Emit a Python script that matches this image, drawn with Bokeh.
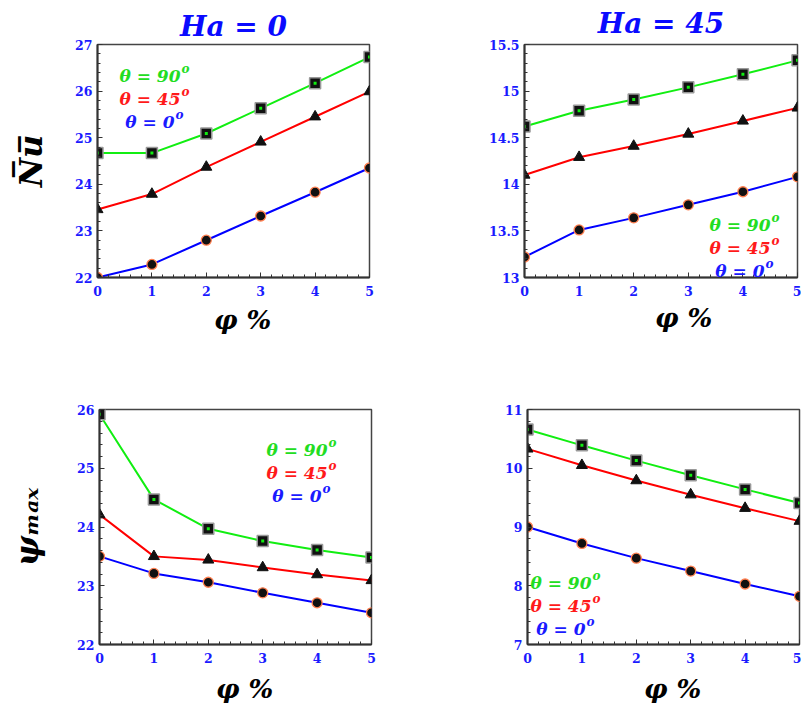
from bokeh.plotting import figure
from bokeh.layouts import column, row
from bokeh.models import Label, SingleIntervalTicker, NumeralTickFormatter, Range1d
from bokeh.embed import file_html
from bokeh.resources import INLINE

# ---------------- data ----------------
phi = [0, 1, 2, 3, 4, 5]

nu_ha0_t90 = [24.67, 24.67, 25.09, 25.63, 26.17, 26.73]
nu_ha0_t45 = [23.46, 23.79, 24.37, 24.91, 25.45, 25.99]
nu_ha0_t0 = [22.0, 22.28, 22.80, 23.32, 23.83, 24.35]

nu_ha45_t90 = [14.62, 14.79, 14.91, 15.04, 15.18, 15.33]
nu_ha45_t45 = [14.10, 14.29, 14.41, 14.54, 14.68, 14.82]
nu_ha45_t0 = [13.22, 13.51, 13.64, 13.78, 13.92, 14.08]

psi_ha0_t90 = [25.92, 24.47, 23.97, 23.76, 23.61, 23.48]
psi_ha0_t45 = [24.21, 23.50, 23.44, 23.31, 23.19, 23.09]
psi_ha0_t0 = [23.50, 23.21, 23.06, 22.88, 22.71, 22.54]

psi_ha45_t90 = [10.66, 10.39, 10.13, 9.88, 9.64, 9.41]
psi_ha45_t45 = [10.33, 10.05, 9.79, 9.55, 9.32, 9.10]
psi_ha45_t0 = [9.00, 8.72, 8.47, 8.25, 8.03, 7.82]

legend_texts = ["\u03b8 = 90", "\u03b8 = 45", "\u03b8 = 0"]
titles = ["Ha = 0", "Ha = 45"]
x_label = "\u03c6 %"
y_label_nu = "N\u0305u\u0305"
y_label_psi = "\u03c8\u2098\u2090\u2093"

# ---------------- style ----------------
FONT = "DejaVu Serif"
GREEN = "#11ee11"
RED = "#ff0000"
BLUE = "#0000ff"
LEG_COLORS = ["#22dd22", "#ff1a1a", "#1a1aff"]
TICK_BLUE = "#1a1aff"
DARK = "#333333"
NB = "\u00a0"


def put(p, fx0, fy1, px, py, text, size, color="black", style="bold",
        align="left", baseline="alphabetic"):
    p.add_layout(Label(x=px - fx0, y=fy1 - py, x_units="screen", y_units="screen",
                       text=text, text_font=FONT, text_font_size=f"{size}px",
                       text_font_style=style, text_color=color, text_align=align,
                       text_baseline=baseline))


def panel(width, height, fx0, fy0, fx1, fy1, y_lo, y_hi, y_step, t90, t45, t0,
          title_text, xpad, xstand, tstand=4):
    p = figure(width=width, height=height, x_range=Range1d(0, 5), y_range=Range1d(y_lo, y_hi),
               output_backend="svg", toolbar_location=None, title=title_text,
               min_border_left=fx0, min_border_right=width - fx1,
               min_border_top=fy0, min_border_bottom=height - fy1)
    p.xgrid.visible = False
    p.ygrid.visible = False
    p.outline_line_color = "#444444"
    p.outline_line_width = 1.5
    p.background_fill_color = "white"
    p.border_fill_color = "white"

    if p.title is not None:
        p.title.text_font = FONT
        p.title.text_font_size = "28px"
        p.title.text_font_style = "bold italic"
        p.title.text_color = "#0a0aff"
        p.title.align = "center"
        p.title.standoff = tstand

    p.xaxis.ticker = SingleIntervalTicker(interval=1, num_minor_ticks=5)
    p.yaxis.ticker = SingleIntervalTicker(interval=y_step, num_minor_ticks=5)
    p.yaxis.formatter = NumeralTickFormatter(format="0.[0]")
    for ax in (p.xaxis[0], p.yaxis[0]):
        ax.major_tick_in = 5
        ax.major_tick_out = 0
        ax.minor_tick_in = 3
        ax.minor_tick_out = 0
        ax.axis_line_color = DARK
        ax.axis_line_width = 2
        ax.major_tick_line_color = DARK
        ax.minor_tick_line_color = DARK
        ax.major_label_text_font = FONT
        ax.major_label_text_font_style = "bold"
        ax.major_label_text_color = TICK_BLUE
        ax.major_label_text_font_size = "12.5px"
        ax.axis_label_text_font = FONT
        ax.axis_label_text_color = "black"
    p.xaxis.major_label_standoff = 8
    p.yaxis.major_label_standoff = 5
    p.xaxis.axis_label = NB * xpad + x_label
    p.xaxis.axis_label_text_font_size = "26px"
    p.xaxis.axis_label_text_font_style = "bold italic"
    p.xaxis.axis_label_standoff = xstand

    # lines
    p.line(phi, t90, line_color=GREEN, line_width=2)
    p.line(phi, t45, line_color=RED, line_width=2)
    p.line(phi, t0, line_color=BLUE, line_width=2)
    # markers
    p.scatter(phi, t0, marker="circle", size=10, fill_color="#111111",
              line_color="#ff7f50", line_width=1.3)
    p.scatter(phi, t45, marker="triangle", size=11, fill_color="#111111",
              line_color="#111111", line_width=1)
    p.scatter(phi, t90, marker="square", size=11, fill_color="#111111",
              line_color="#999999", line_width=1.5)
    p.scatter(phi, t90, marker="square", size=3, fill_color=GREEN, line_color=None)
    return p


def legend(p, fx0, fy1, right, base):
    offs = [0, 23, 46]
    sub = [13, 13, 19]
    for t, c, o, s in zip(legend_texts, LEG_COLORS, offs, sub):
        put(p, fx0, fy1, right - s, base + o, t, 17, color=c, style="bold italic", align="right")
        put(p, fx0, fy1, right - s + 1, base + o - 7, "o", 12, color=c, style="bold italic", align="left")


W0, H0, W1 = 400, 355, 401

# ---- top-left: Nu, Ha = 0 ----
tl = panel(W0, H0, 97, 43, 369, 277, 22, 27, 1, nu_ha0_t90, nu_ha0_t45, nu_ha0_t0,
           titles[0], 2, 6, 4)
legend(tl, 97, 277, 193, 75)
tl.yaxis.axis_label = y_label_nu
tl.yaxis.axis_label_text_font_size = "32px"
tl.yaxis.axis_label_text_font_style = "bold italic"
tl.yaxis.axis_label_standoff = 22

# ---- top-right: Nu, Ha = 45 ----
tr = panel(W1, H0, 124, 43, 397, 277, 13, 15.5, 0.5, nu_ha45_t90, nu_ha45_t45, nu_ha45_t0,
           titles[1], 5, 4, 9)
legend(tr, 124, 277, 383, 224)

# ---- bottom-left: psi, Ha = 0 ----
bl = panel(W0, H0, 99, 54, 371, 290, 22, 26, 1, psi_ha0_t90, psi_ha0_t45, psi_ha0_t0,
           "", 2, 8)
legend(bl, 99, 290, 340, 450 - 355)
bl.yaxis.axis_label = y_label_psi
bl.yaxis.axis_label_text_font_size = "32px"
bl.yaxis.axis_label_text_font_style = "bold italic"
bl.yaxis.axis_label_standoff = 28

# ---- bottom-right: psi, Ha = 45 ----
br = panel(W1, H0, 127, 54, 399, 289, 7, 11, 1, psi_ha45_t90, psi_ha45_t45, psi_ha45_t0,
           "", 2, 8)
legend(br, 127, 289, 604 - 400, 582 - 355)

layout = column(row(tl, tr), row(bl, br))
open("out.html", "w").write(file_html(layout, INLINE))
